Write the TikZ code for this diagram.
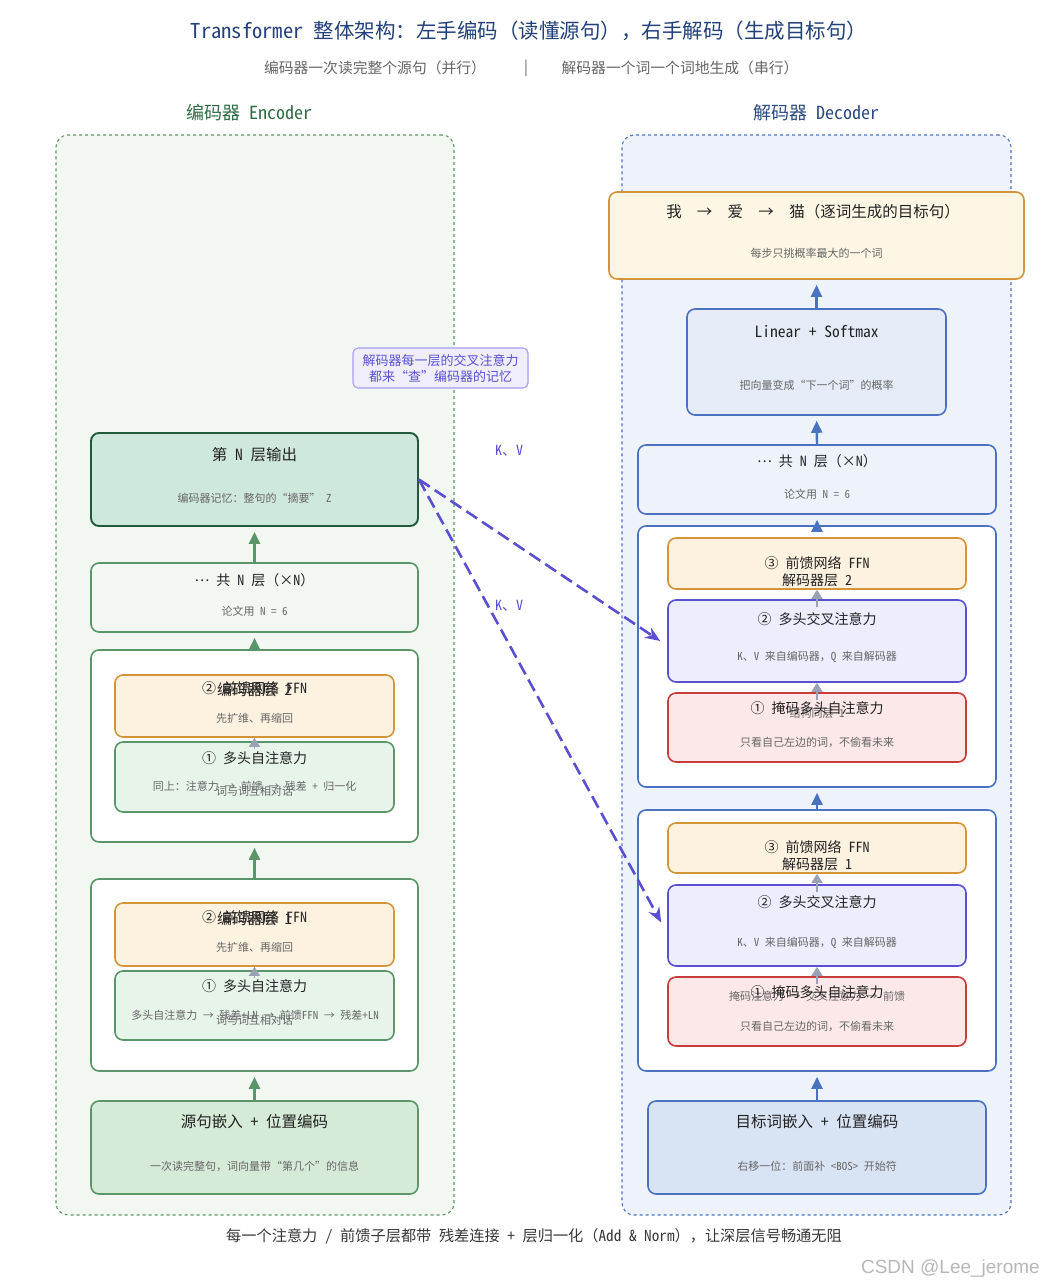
\documentclass[tikz,border=0pt]{standalone}
\usepackage{fontspec}
\setmainfont{Noto Sans Mono CJK SC}
\newfontfamily\markfont{Liberation Sans}
\usetikzlibrary{arrows.meta,positioning,shapes,calc}

\definecolor{headink}{HTML}{22407A}
\definecolor{greyink}{HTML}{666666}
\definecolor{textink}{HTML}{222222}
\definecolor{encink}{HTML}{2E6B45}
\definecolor{decink}{HTML}{2B4A82}
\definecolor{encline}{HTML}{5A9669}
\definecolor{encdark}{HTML}{1F5A3A}
\definecolor{encpale}{HTML}{F2F7F2}
\definecolor{encmint}{HTML}{CFE8DC}
\definecolor{encattn}{HTML}{E6F4EA}
\definecolor{encemb}{HTML}{D6EBD7}
\definecolor{decline}{HTML}{4A72C0}
\definecolor{decpale}{HTML}{EEF3FB}
\definecolor{declin}{HTML}{E5ECF8}
\definecolor{decemb}{HTML}{D8E4F4}
\definecolor{ffnline}{HTML}{D4953A}
\definecolor{ffnfill}{HTML}{FDF1E0}
\definecolor{outfill}{HTML}{FDF6E4}
\definecolor{crossline}{HTML}{5B50D0}
\definecolor{crossfill}{HTML}{ECEEFD}
\definecolor{maskline}{HTML}{C83C3C}
\definecolor{maskfill}{HTML}{FCE8E9}
\definecolor{stepgrey}{HTML}{9AA3B5}
\definecolor{kvink}{HTML}{5A4FD0}
\definecolor{notefill}{HTML}{F0EEFD}
\definecolor{noteline}{HTML}{A79EF0}

\begin{document}
\begin{tikzpicture}[x=1pt,y=-1pt,
    panel/.style={draw,dashed,rounded corners=12pt,line width=1.1pt,inner sep=0pt},
    block/.style={draw,rounded corners=8pt,line width=1.6pt,inner sep=0pt},
    hdr/.style={inner sep=0pt,font=\fontsize{18}{20}\selectfont},
    ttl/.style={inner sep=0pt,text=textink,font=\fontsize{14}{16}\selectfont},
    bigttl/.style={ttl,font=\fontsize{15.5}{18}\selectfont},
    sub/.style={inner sep=0pt,text=greyink,font=\fontsize{11}{13}\selectfont},
    lift/.style={-{Triangle[length=12pt,width=11pt]},line width=2.4pt,shorten >=5pt},
    nudge/.style={-{Triangle[length=9pt,width=11pt]},line width=1.4pt,stepgrey},
    kv/.style={-{Stealth[length=15pt,width=12pt]},line width=2.6pt,kvink,dash pattern=on 13pt off 6pt}]
   \useasboundingbox[fill=white] (0,0) rectangle (1044,1287);

   \node[hdr,text=headink,font=\fontsize{20.5}{23}\selectfont] (title) at (529,31)
      {Transformer 整体架构：左手编码（读懂源句），右手解码（生成目标句）};
   \node[sub,font=\fontsize{14.8}{17}\selectfont] (subleft) at (375,68) {编码器一次读完整个源句（并行）};
   \node[sub,font=\fontsize{14.8}{17}\selectfont] (subbar) at (526,68) {|};
   \node[sub,font=\fontsize{14.8}{17}\selectfont] (subright) at (680,68) {解码器一个词一个词地生成（串行）};
   \node[hdr,text=encink] (enchead) at (249,113) {编码器 Encoder};
   \node[hdr,text=decink] (dechead) at (816,113) {解码器 Decoder};

   \node[panel,draw=encline,fill=encpale,minimum width=398pt,minimum height=1080pt] (encpanel) at (255,675) {};
   \node[panel,draw=decline,fill=decpale,minimum width=389pt,minimum height=1080pt] (decpanel) at (816.5,675) {};

   % encoder side
   \node[block,draw=encdark,fill=encmint,line width=1.9pt,minimum width=327pt,minimum height=93pt] (encout) at (254.5,479.5) {};
   \node[block,draw=encline,fill=encpale,minimum width=327pt,minimum height=69pt] (encstack) at (254.5,597.5) {};
   \node[block,draw=encline,fill=white,minimum width=327pt,minimum height=192pt] (enclayertwo) at (254.5,746) {};
   \node[block,draw=ffnline,fill=ffnfill,minimum width=279pt,minimum height=62pt] (encffntwo) at (254.5,706) {};
   \node[block,draw=encline,fill=encattn,minimum width=279pt,minimum height=70pt] (encattntwo) at (254.5,777) {};
   \node[block,draw=encline,fill=white,minimum width=327pt,minimum height=192pt] (enclayerone) at (254.5,975) {};
   \node[block,draw=ffnline,fill=ffnfill,minimum width=279pt,minimum height=63pt] (encffnone) at (254.5,934.5) {};
   \node[block,draw=encline,fill=encattn,minimum width=279pt,minimum height=69pt] (encattnone) at (254.5,1005.5) {};
   \node[block,draw=encline,fill=encemb,minimum width=327pt,minimum height=93pt] (encembed) at (254.5,1147.5) {};

   % decoder side
   \node[block,draw=ffnline,fill=outfill,minimum width=415pt,minimum height=87pt] (decout) at (816.5,235.5) {};
   \node[block,draw=decline,fill=declin,minimum width=259pt,minimum height=106pt] (declinear) at (816.5,362) {};
   \node[block,draw=decline,fill=decpale,minimum width=358pt,minimum height=69pt] (decstack) at (817,479.5) {};
   \node[block,draw=decline,fill=white,minimum width=358pt,minimum height=261pt] (declayertwo) at (817,656.5) {};
   \node[block,draw=ffnline,fill=ffnfill,minimum width=298pt,minimum height=51pt] (decffntwo) at (817,563.5) {};
   \node[block,draw=crossline,fill=crossfill,minimum width=298pt,minimum height=82pt] (deccrosstwo) at (817,641) {};
   \node[block,draw=maskline,fill=maskfill,minimum width=298pt,minimum height=69pt] (decmasktwo) at (817,727.5) {};
   \node[block,draw=decline,fill=white,minimum width=358pt,minimum height=261pt] (declayerone) at (817,940.5) {};
   \node[block,draw=ffnline,fill=ffnfill,minimum width=298pt,minimum height=50pt] (decffnone) at (817,848) {};
   \node[block,draw=crossline,fill=crossfill,minimum width=298pt,minimum height=81pt] (deccrossone) at (817,925.5) {};
   \node[block,draw=maskline,fill=maskfill,minimum width=298pt,minimum height=69pt] (decmaskone) at (817,1011.5) {};
   \node[block,draw=decline,fill=decemb,minimum width=338pt,minimum height=93pt] (decembed) at (817,1147.5) {};

   \node[draw=noteline,fill=notefill,rounded corners=5pt,line width=1.1pt,minimum width=175pt,minimum height=40pt,
         inner sep=0pt,align=center,text=crossline,font=\fontsize{13}{16}\selectfont] (crossnote) at (440.5,368)
      {解码器每一层的交叉注意力\\都来“查”编码器的记忆};

   % encoder texts
   \node[bigttl] (encouttitle) at (254.5,455) {第 N 层输出};
   \node[sub] (encoutnote) at (254.5,498) {编码器记忆：整句的“摘要” Z};
   \node[ttl] (encstacktitle) at (254.5,580) {\raisebox{0.3em}{…} 共 N 层（×N）};
   \node[sub] (encstacknote) at (254.5,611) {论文用 N = 6};
   \node[ttl] (encffntwotitle) at (254.5,688) {② 前馈网络 FFN};
   \node[ttl,font=\fontsize{15}{17}\selectfont] (enclayertwolabel) at (254.5,690) {编码器层 2};
   \node[sub] (encffntwonote) at (254.5,718) {先扩维、再缩回};
   \node[ttl] (encattntwotitle) at (254.5,758) {① 多头自注意力};
   \node[sub] (enclayertwonote) at (254.5,786) {同上：注意力 → 前馈 → 残差 + 归一化};
   \node[sub] (encattntwonote) at (254.5,791) {词与词互相对话};
   \node[ttl] (encffnonetitle) at (254.5,917) {② 前馈网络 FFN};
   \node[ttl,font=\fontsize{15}{17}\selectfont] (enclayeronelabel) at (254.5,919) {编码器层 1};
   \node[sub] (encffnonenote) at (254.5,947) {先扩维、再缩回};
   \node[ttl] (encattnonetitle) at (254.5,986) {① 多头自注意力};
   \node[sub] (enclayeronenote) at (255,1015) {多头自注意力 → 残差+LN → 前馈FFN → 残差+LN};
   \node[sub] (encattnonenote) at (254.5,1020) {词与词互相对话};
   \node[bigttl] (encembedtitle) at (254.5,1122) {源句嵌入 + 位置编码};
   \node[sub] (encembednote) at (254.5,1166) {一次读完整句，词向量带“第几个”的信息};

   % decoder texts
   \node[bigttl] (decouttitle) at (813,212)
      {我\hspace{17pt}\makebox[12pt]{→}\hspace{17pt}爱\hspace{17pt}\makebox[12pt]{→}\hspace{17pt}猫（逐词生成的目标句）};
   \node[sub] (decoutnote) at (816.5,253) {每步只挑概率最大的一个词};
   \node[bigttl] (declineartitle) at (816.5,332) {Linear + Softmax};
   \node[sub] (declinearnote) at (816.5,385) {把向量变成“下一个词”的概率};
   \node[ttl] (decstacktitle) at (817,461) {\raisebox{0.3em}{…} 共 N 层（×N）};
   \node[sub] (decstacknote) at (817,494) {论文用 N = 6};
   \node[ttl] (decffntwotitle) at (817,563) {③ 前馈网络 FFN};
   \node[ttl] (declayertwolabel) at (817,580) {解码器层 2};
   \node[ttl] (deccrosstwotitle) at (817,619) {② 多头交叉注意力};
   \node[sub] (deccrosstwonote) at (817,657) {K、V 来自编码器，Q 来自解码器};
   \node[sub] (declayertwonote) at (817,713) {结构同层 1};
   \node[ttl] (decmasktwotitle) at (817,708) {① 掩码多头自注意力};
   \node[sub] (decmasktwonote) at (817,742) {只看自己左边的词，不偷看未来};
   \node[ttl] (decffnonetitle) at (817,847) {③ 前馈网络 FFN};
   \node[ttl] (declayeronelabel) at (817,864) {解码器层 1};
   \node[ttl] (deccrossonetitle) at (817,902) {② 多头交叉注意力};
   \node[sub] (deccrossonenote) at (817,943) {K、V 来自编码器，Q 来自解码器};
   \node[sub] (declayeronenote) at (817,996) {掩码注意力 → 交叉注意力 → 前馈};
   \node[ttl] (decmaskonetitle) at (817,992) {① 掩码多头自注意力};
   \node[sub] (decmaskonenote) at (817,1026) {只看自己左边的词，不偷看未来};
   \node[bigttl] (decembedtitle) at (817,1122) {目标词嵌入 + 位置编码};
   \node[sub] (decembednote) at (817,1166) {右移一位：前面补 <BOS> 开始符};

   % flow inside the stacks
   \draw[lift,encline] (encembed.north) -- (enclayerone.south);
   \draw[lift,encline] (enclayerone.north) -- (enclayertwo.south);
   \draw[lift,encline] (enclayertwo.north) -- (encstack.south);
   \draw[lift,encline] (encstack.north) -- (encout.south);
   \draw[nudge] ([yshift=-8pt]encattntwo.north) -- (encffntwo.south);
   \draw[nudge] ([yshift=-8pt]encattnone.north) -- (encffnone.south);

   \draw[lift,decline] (decembed.north) -- (declayerone.south);
   \draw[lift,decline] (declayerone.north) -- (declayertwo.south);
   \draw[lift,decline] (declayertwo.north) -- (decstack.south);
   \draw[lift,decline] (decstack.north) -- (declinear.south);
   \draw[lift,decline] (declinear.north) -- (decout.south);
   \draw[nudge] ([yshift=-8pt]decmasktwo.north) -- (deccrosstwo.south);
   \draw[nudge] ([yshift=-8pt]deccrosstwo.north) -- (decffntwo.south);
   \draw[nudge] ([yshift=-8pt]decmaskone.north) -- (deccrossone.south);
   \draw[nudge] ([yshift=-8pt]deccrossone.north) -- (decffnone.south);

   % encoder memory feeds every cross attention
   \draw[kv] (encout.east) -- ([xshift=-7pt]deccrosstwo.west);
   \draw[kv] (encout.east) -- ([xshift=-6pt,yshift=3pt]deccrossone.west);
   \node[inner sep=0pt,text=crossline,font=\fontsize{14}{16}\selectfont] (kvtop) at (509,451) {K、V};
   \node[inner sep=0pt,text=crossline,font=\fontsize{14}{16}\selectfont] (kvbottom) at (509,606) {K、V};

   \node[inner sep=0pt,text=textink!90,font=\fontsize{15.2}{17}\selectfont] (footnote) at (534,1236)
      {每一个注意力 / 前馈子层都带 残差连接 + 层归一化（Add \& Norm），让深层信号畅通无阻};
   \node[anchor=east,inner sep=0pt,text=black!28,font=\markfont\fontsize{19}{21}\selectfont] (watermark) at (1040,1269)
      {CSDN @Lee\_jerome};
\end{tikzpicture}
\end{document}
